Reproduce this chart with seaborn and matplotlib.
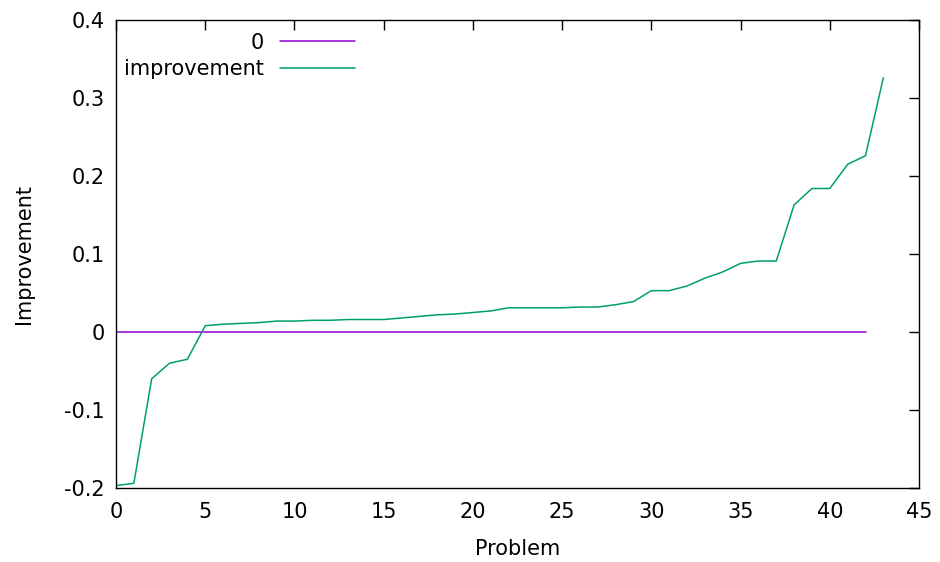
import numpy as np
import pandas as pd
import seaborn as sns
import matplotlib.pyplot as plt
from matplotlib.ticker import FuncFormatter

# values
problems = list(range(44))
improvement = [
    -0.197, -0.194, -0.060, -0.040, -0.035, 0.008, 0.010, 0.011, 0.012, 0.014,
    0.014, 0.015, 0.015, 0.016, 0.016, 0.016, 0.018, 0.020, 0.022, 0.023,
    0.025, 0.027, 0.031, 0.031, 0.031, 0.031, 0.032, 0.032, 0.035, 0.039,
    0.053, 0.053, 0.059, 0.069, 0.077, 0.088, 0.091, 0.091, 0.163, 0.184,
    0.184, 0.215, 0.226, 0.326,
]
zero_x = list(range(43))
zero_y = [0.0] * 43

x_ticks = [0, 5, 10, 15, 20, 25, 30, 35, 40, 45]
y_ticks = [-0.2, -0.1, 0, 0.1, 0.2, 0.3, 0.4]

df = pd.concat([
    pd.DataFrame({"Problem": zero_x, "Improvement": zero_y, "series": "0"}),
    pd.DataFrame({"Problem": problems, "Improvement": improvement, "series": "improvement"}),
])

sns.set_style("white")
plt.rcParams["font.family"] = ["DejaVu Sans"]
fs = 15

fig = plt.figure(figsize=(9.4, 5.62), dpi=100)
ax = fig.add_axes([0.1234, 0.1317, 0.8543, 0.8327])

sns.lineplot(data=df, x="Problem", y="Improvement", hue="series",
             palette={"0": "#9400d3", "improvement": "#009e73"},
             linewidth=1.1, ax=ax, estimator=None, sort=False)

ax.set_xlim(0, 45)
ax.set_ylim(-0.2, 0.4)
ax.set_xticks(x_ticks)
ax.set_yticks(y_ticks)
ax.yaxis.set_major_formatter(FuncFormatter(lambda v, p: "0" if abs(v) < 1e-9 else f"{v:g}"))
ax.tick_params(direction="in", length=7, width=1, top=True, right=True,
               labelsize=fs, colors="black", pad=8)
ax.tick_params(axis="x", pad=10)
for s in ax.spines.values():
    s.set_color("black")
    s.set_linewidth(1)

ax.set_xlabel("Problem", fontsize=fs, labelpad=12, color="black")
ax.set_ylabel("Improvement", fontsize=fs, labelpad=22, color="black")

leg = ax.legend(loc="upper right", bbox_to_anchor=(0.3225, 1.015), frameon=False,
                markerfirst=False, fontsize=fs, handlelength=3.6, handletextpad=0.8,
                labelspacing=0.3, borderpad=0.45)
for t in leg.get_texts():
    t.set_color("black")

fig.savefig("out.png", dpi=100)
